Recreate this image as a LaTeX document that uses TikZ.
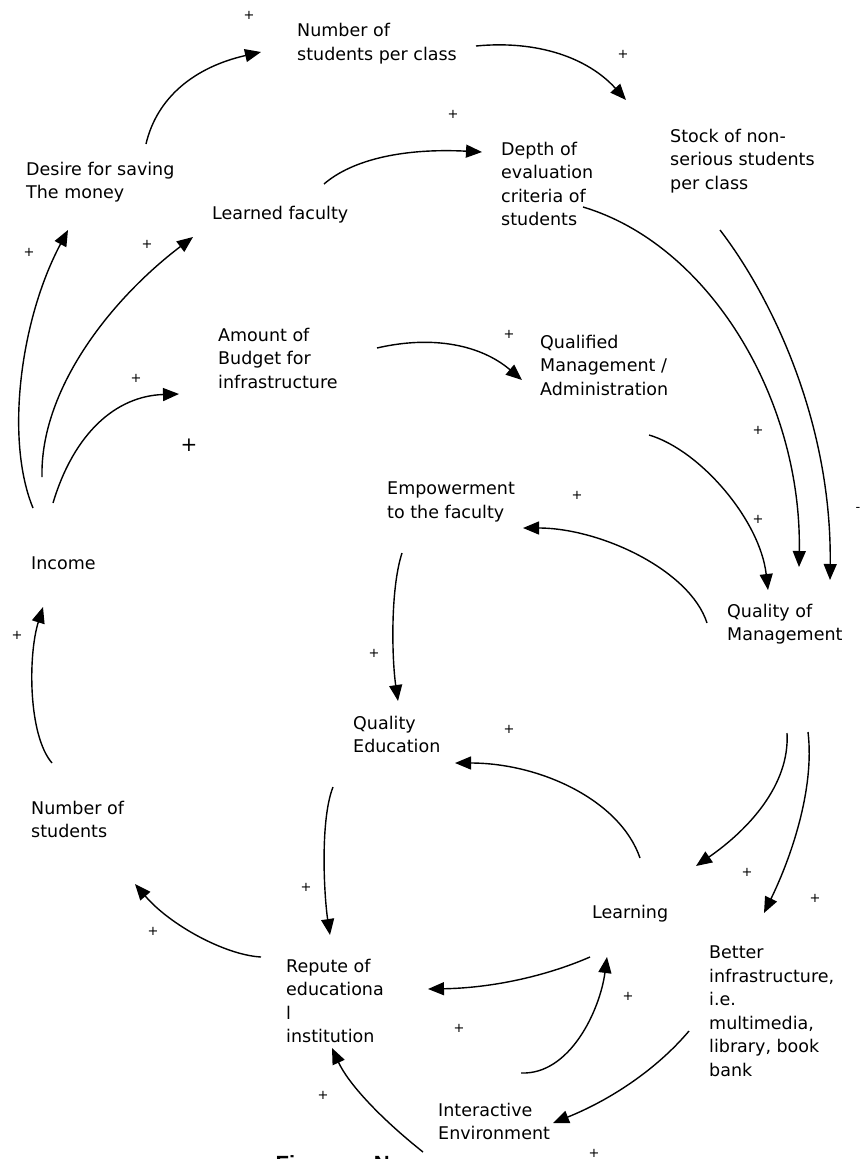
\documentclass[tikz,border=0pt]{standalone}
\usepackage{fontspec}
\setmainfont{DejaVu Sans}
\newfontfamily\figfont{Liberation Sans}
\usetikzlibrary{arrows.meta}
\begin{document}
\begin{tikzpicture}[x=1pt,y=-1pt,
  lbl/.style={anchor=north west, inner sep=0pt, align=left,
    font=\fontsize{17.5}{23.5}\selectfont, execute at begin node=\strut, yshift=16.45pt},
  conn/.style={line width=1.4pt, -{Triangle[length=16pt,width=13pt]}},
  sgn/.style={inner sep=0pt, font=\fontsize{13}{13}\selectfont}]
\useasboundingbox (0,0) rectangle (865,1159);
\clip (0,0) rectangle (865,1159);
\fill[white] (0,0) rectangle (865,1159);

% ---- variables ----
\node[lbl] (numclass) at (297,39.5) {Number of\\students per class};
\node[lbl] (stock) at (670,145) {Stock of non-\\serious students\\per class};
\node[lbl] (depth) at (501,158) {Depth of\\evaluation\\criteria of\\students};
\node[lbl] (desire) at (26,178) {Desire for saving\\The money};
\node[lbl] (learned) at (212,219) {Learned faculty};
\node[lbl] (budget) at (218,344) {Amount of\\Budget for\\infrastructure};
\node[lbl] (qualified) at (540,351) {Qualified\\Management /\\Administration};
\node[lbl] (empower) at (387,498) {Empowerment\\to the faculty};
\node[lbl] (income) at (31,569) {Income};
\node[lbl] (qom) at (727,620) {Quality of\\Management};
\node[lbl] (qualedu) at (353,732) {Quality\\Education};
\node[lbl] (numstud) at (31,817) {Number of\\students};
\node[lbl] (learning) at (592,918) {Learning};
\node[lbl] (repute) at (286,975) {Repute of\\educationa\\l\\institution};
\node[lbl] (better) at (709,962) {Better\\infrastructure,\\i.e.\\multimedia,\\library, book\\bank};
\node[lbl] (interactive) at (438,1119) {Interactive\\Environment};
\node[anchor=base west, inner sep=0pt, font=\figfont\bfseries\fontsize{22}{22}\selectfont] (fig) at (275.5,1171.8) {Figure\hspace{31pt}No};

% ---- connector end points ----
\coordinate (desire-out) at (146,144);   \coordinate (numclass-in) at (261,52);
\coordinate (numclass-out) at (476,46);  \coordinate (stock-in) at (626,100);
\coordinate (learned-out) at (324,184);  \coordinate (depth-in) at (482,152);
\coordinate (depth-out) at (583,207);    \coordinate (qom-in1) at (799,567);
\coordinate (stock-out) at (720,230);    \coordinate (qom-in2) at (830,580);
\coordinate (qualified-out) at (649,435);\coordinate (qom-in3) at (768,590);
\coordinate (budget-out) at (377,348);   \coordinate (qualified-in) at (522,380);
\coordinate (qom-out1) at (707,623);     \coordinate (empower-in) at (523,528);
\coordinate (empower-out) at (402,553);  \coordinate (qualedu-in) at (398,701);
\coordinate (qom-out2) at (787,733);     \coordinate (learning-in1) at (696,866);
\coordinate (qom-out3) at (808,732);     \coordinate (better-in) at (764,913);
\coordinate (learning-out1) at (640,858);\coordinate (qualedu-in2) at (455,763);
\coordinate (qualedu-out) at (333,787);  \coordinate (repute-in1) at (330,935);
\coordinate (repute-out) at (261,957);   \coordinate (numstud-in) at (135,884);
\coordinate (numstud-out) at (52,763);   \coordinate (income-in) at (43,607);
\coordinate (income-out1) at (33,508);   \coordinate (desire-in) at (68,230);
\coordinate (income-out2) at (42,477);   \coordinate (learned-in) at (193,237);
\coordinate (income-out3) at (53,503);   \coordinate (budget-in) at (179,394);
\coordinate (learning-out2) at (590,957);\coordinate (repute-in2) at (428,989);
\coordinate (interactive-out1) at (521,1073); \coordinate (learning-in2) at (607,957);
\coordinate (better-out) at (689,1031);  \coordinate (interactive-in) at (553,1123);
\coordinate (interactive-out2) at (423,1152); \coordinate (repute-in3) at (332,1048);

% ---- connectors ----
\draw[conn] (desire-out) .. controls (157,97) and (195,67) .. (numclass-in);
\draw[conn] (numclass-out) .. controls (538,40) and (588,58) .. (stock-in);
\draw[conn] (learned-out) .. controls (353,159) and (405,148) .. (depth-in);
\draw[conn] (depth-out) .. controls (710,245) and (802,400) .. (qom-in1);
\draw[conn] (stock-out) .. controls (770,295) and (832,420) .. (qom-in2);
\draw[conn] (qualified-out) .. controls (700,450) and (760,520) .. (qom-in3);
\draw[conn] (budget-out) .. controls (433,335) and (481,345) .. (qualified-in);
\draw[conn] (qom-out1) .. controls (690,570) and (600,528) .. (empower-in);
\draw[conn] (empower-out) .. controls (390,590) and (392,660) .. (qualedu-in);
\draw[conn] (qom-out2) .. controls (790,785) and (748,830) .. (learning-in1);
\draw[conn] (qom-out3) .. controls (815,790) and (790,860) .. (better-in);
\draw[conn] (learning-out1) .. controls (620,800) and (540,763) .. (qualedu-in2);
\draw[conn] (qualedu-out) .. controls (320,820) and (324,895) .. (repute-in1);
\draw[conn] (repute-out) .. controls (225,955) and (170,925) .. (numstud-in);
\draw[conn] (numstud-out) .. controls (28,735) and (28,655) .. (income-in);
\draw[conn] (income-out1) .. controls (5,440) and (20,320) .. (desire-in);
\draw[conn] (income-out2) .. controls (40,390) and (110,300) .. (learned-in);
\draw[conn] (income-out3) .. controls (74,433) and (116,396) .. (budget-in);
\draw[conn] (learning-out2) .. controls (544,977) and (490,988) .. (repute-in2);
\draw[conn] (interactive-out1) .. controls (570,1075) and (600,1010) .. (learning-in2);
\draw[conn] (better-out) .. controls (656,1070) and (610,1100) .. (interactive-in);
\draw[conn] (interactive-out2) .. controls (379,1117) and (348,1083) .. (repute-in3);

% ---- polarity signs ----
\node[sgn] (s1) at (249,15) {+};
\node[sgn] (s2) at (29,252) {+};
\node[sgn] (s3) at (147,244) {+};
\node[sgn] (s4) at (623,54) {+};
\node[sgn] (s5) at (453,114) {+};
\node[sgn] (s6) at (136,378) {+};
\node[sgn, font=\fontsize{20}{20}\selectfont] (s7) at (189,445) {+};
\node[sgn] (s8) at (509,334) {+};
\node[sgn] (s9) at (758,430) {+};
\node[sgn] (s10) at (758,519) {+};
\node[sgn] (s11) at (577,495) {+};
\node[sgn] (s12) at (858,509) {-};
\node[sgn] (s13) at (374,653) {+};
\node[sgn] (s14) at (17,635) {+};
\node[sgn] (s15) at (509,729) {+};
\node[sgn] (s16) at (306,887) {+};
\node[sgn] (s17) at (153,931) {+};
\node[sgn] (s18) at (747,872) {+};
\node[sgn] (s19) at (815,898) {+};
\node[sgn] (s20) at (628,996) {+};
\node[sgn] (s21) at (459,1028) {+};
\node[sgn] (s22) at (323,1095) {+};
\node[sgn] (s23) at (594,1153) {+};
\end{tikzpicture}
\end{document}
